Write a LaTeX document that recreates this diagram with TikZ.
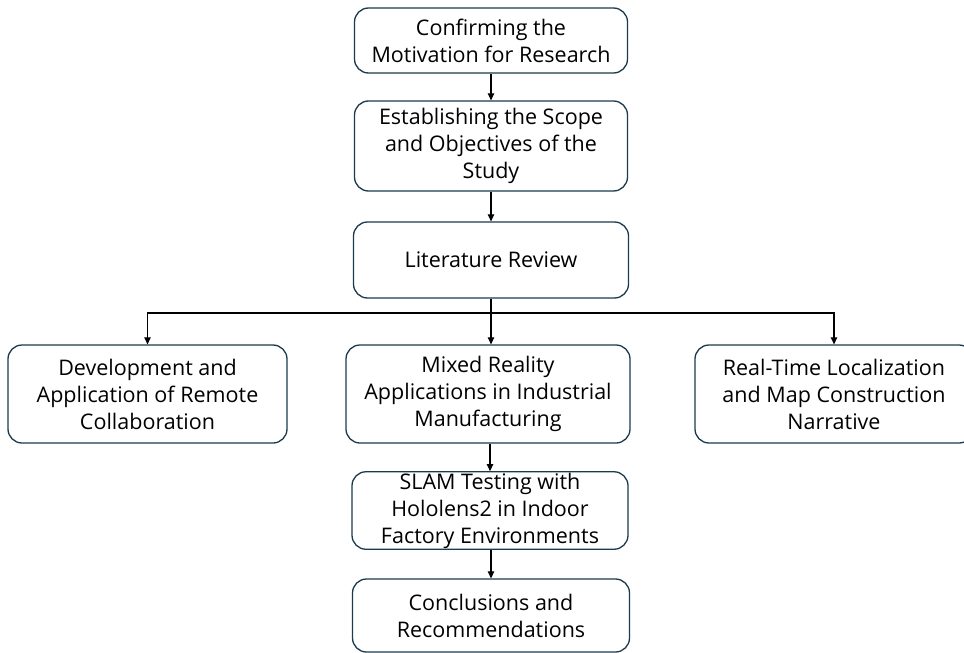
\documentclass[tikz,border=0pt]{standalone}
\usepackage{fontspec}
\setmainfont{Open Sans}
\usetikzlibrary{arrows.meta}
\definecolor{boxline}{HTML}{1B3A4E}
\tikzset{
  box/.style={draw=boxline, line width=1.3pt, rounded corners=14pt, fill=white,
    align=center, inner sep=1pt, font=\fontsize{21.5}{27}\selectfont},
  arr/.style={black, line width=1.1pt, -{Triangle[length=7pt,width=6.5pt]}}
}
\begin{document}
\begin{tikzpicture}[x=1pt,y=-1pt]
\useasboundingbox (0,0) rectangle (964,653);
\clip (0,0) rectangle (964,653);
\node[box, minimum width=273pt, minimum height=65pt] (b1) at (491,40.5) {Confirming the\\Motivation for Research};
\node[box, minimum width=273pt, minimum height=90pt] (b2) at (491,146) {Establishing the Scope\\and Objectives of the\\Study};
\node[box, minimum width=275pt, minimum height=76pt] (b3) at (491,260) {Literature Review};
\node[box, minimum width=279pt, minimum height=98pt] (b4) at (147.5,394) {Development and\\Application of Remote\\Collaboration};
\node[box, minimum width=284pt, minimum height=98pt] (b5) at (488,394) {Mixed Reality\\Applications in Industrial\\Manufacturing};
\node[box, minimum width=278pt, minimum height=98pt] (b6) at (834,394) {Real-Time Localization\\and Map Construction\\Narrative};
\node[box, minimum width=276pt, minimum height=77pt] (b7) at (490,510.5) {SLAM Testing with\\Hololens2 in Indoor\\Factory Environments};
\node[box, minimum width=277pt, minimum height=73pt] (b8) at (491,615.5) {Conclusions and\\Recommendations};
\coordinate (split) at (490,313);
\draw[arr] (b1.south) -- (b2.north);
\draw[arr] (b2.south) -- (b3.north);
\draw[line width=1.1pt] (b3.south) -- (b3.south |- split);
\draw[arr] (b3.south |- split) -| (b4.north);
\draw[arr] (b3.south |- split) -| (b6.north);
\draw[arr] (b3.south |- split) -- (b3.south |- b5.north);
\draw[arr] (b5.south -| b7.north) -- (b7.north);
\draw[arr] (b7.south -| b8.north) -- (b8.north);
\end{tikzpicture}
\end{document}
